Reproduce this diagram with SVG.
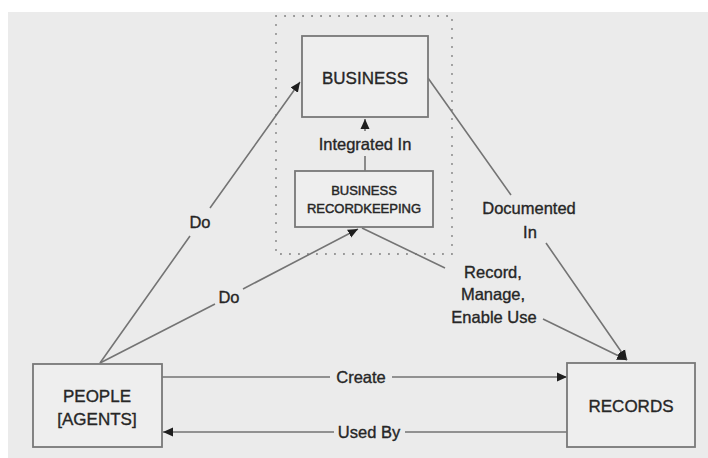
<svg xmlns="http://www.w3.org/2000/svg" width="708" height="458" viewBox="0 0 708 458">
<defs>
<marker id="arr" markerUnits="userSpaceOnUse" markerWidth="12" markerHeight="10" refX="10" refY="5" orient="auto">
<path d="M0,0.5 L10,5 L0,9.5 Z" fill="#1e1e1e"/>
</marker>
<style>
.bg{fill:#ebebeb}
.box{fill:#eeeeee;stroke:#787878;stroke-width:1.8}
.dot{fill:none;stroke:#8a8a8a;stroke-width:2;stroke-dasharray:0.1 8.9;stroke-linecap:round}
.ln{fill:none;stroke:#747474;stroke-width:1.6}
.t{font-family:"Liberation Sans",Arial,sans-serif;fill:#262626;stroke:#262626;stroke-width:0.35;text-anchor:middle}
.nt{font-size:17px}
.lb{font-size:16.5px}
.sm{font-size:13px;stroke-width:0.45}
</style>
</defs>
<rect width="708" height="458" fill="#ffffff"/>
<rect class="bg" x="8" y="12" width="700" height="446"/>
<rect class="dot" x="276" y="16" width="176" height="238"/>

<g id="connectors">
<path class="ln" d="M100,363 L190,236 M210,208 L300,82" marker-end="url(#arr)"/>
<path class="ln" d="M100,363 L215,304 M243,289 L358,229" marker-end="url(#arr)"/>
<path class="ln" d="M365,171 L365,156 M365,131 L365,119" marker-end="url(#arr)"/>
<path class="ln" d="M428,78 L511,195 M546,243 L627,360" marker-end="url(#arr)"/>
<path class="ln" d="M362,228 L445,268 M543,319 L627,360" marker-end="url(#arr)"/>
<path class="ln" d="M162,377 L330,377 M392,377 L567,377" marker-end="url(#arr)"/>
<path class="ln" d="M567,432 L405,432 M334,432 L163,432" marker-end="url(#arr)"/>
<text class="t lb" x="200" y="228">Do</text>
<text class="t lb" x="229" y="303">Do</text>
<text class="t lb" x="365" y="150">Integrated In</text>
<text class="t lb" x="529" y="214">Documented</text>
<text class="t lb" x="530" y="238">In</text>
<text class="t lb" x="493" y="278">Record,</text>
<text class="t lb" x="493" y="300">Manage,</text>
<text class="t lb" x="494" y="323">Enable Use</text>
<text class="t lb" x="361" y="383">Create</text>
<text class="t lb" x="369" y="438">Used By</text>
</g>

<g id="business">
<rect class="box" x="302" y="36" width="126" height="81"/>
<text class="t nt" x="365" y="84">BUSINESS</text>
</g>
<g id="business-recordkeeping">
<rect class="box" x="295" y="171" width="138" height="56"/>
<text class="t sm" x="364" y="195">BUSINESS</text>
<text class="t sm" x="364" y="213">RECORDKEEPING</text>
</g>
<g id="people">
<rect class="box" x="33" y="364" width="129" height="83"/>
<text class="t nt" x="97" y="402">PEOPLE</text>
<text class="t nt" x="97" y="425">[AGENTS]</text>
</g>
<g id="records">
<rect class="box" x="567" y="363" width="128" height="84"/>
<text class="t nt" x="631" y="412">RECORDS</text>
</g>
</svg>
